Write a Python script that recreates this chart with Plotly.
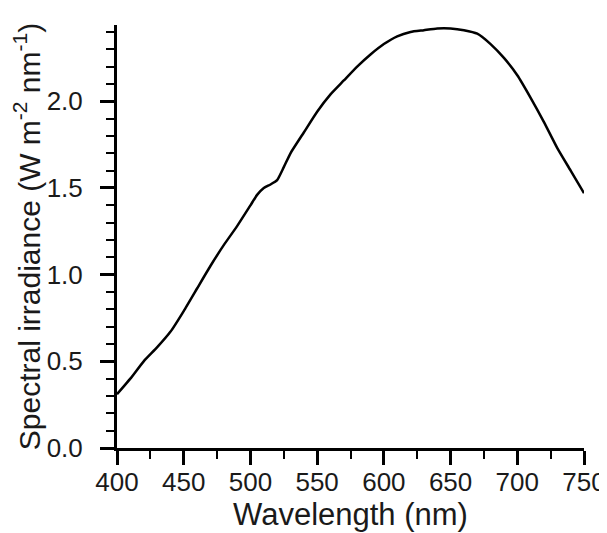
import plotly.graph_objects as go

wavelength = [400, 410, 420, 430, 440, 450, 460, 470, 480, 490, 500, 505, 510, 515, 520,
              525, 530, 540, 550, 560, 570, 580, 590, 600, 610, 620, 630, 640, 650, 660,
              670, 680, 690, 700, 710, 720, 730, 740, 750]
irradiance = [0.31, 0.40, 0.50, 0.58, 0.67, 0.79, 0.92, 1.05, 1.17, 1.28, 1.40, 1.46, 1.50,
              1.52, 1.545, 1.62, 1.70, 1.82, 1.94, 2.04, 2.12, 2.20, 2.27, 2.33, 2.375, 2.40,
              2.41, 2.42, 2.42, 2.41, 2.39, 2.33, 2.25, 2.15, 2.02, 1.88, 1.73, 1.60, 1.47]

x_ticks = [400, 450, 500, 550, 600, 650, 700, 750]
y_ticks = [0.0, 0.5, 1.0, 1.5, 2.0]
y_tick_labels = ["0.0", "0.5", "1.0", "1.5", "2.0"]

font_family = "Liberation Sans, Arial, sans-serif"
text_color = "#1a1a1a"

fig = go.Figure()
fig.add_trace(go.Scatter(x=wavelength, y=irradiance, mode="lines",
                         line=dict(color="black", width=2.5, shape="spline", smoothing=0.5),
                         showlegend=False))

# the page body adds an 8px margin, so the figure is sized to fit inside the window
fig.update_layout(
    width=599, height=525,
    margin=dict(l=109, r=23, t=17, b=85),
    paper_bgcolor="white", plot_bgcolor="white",
    font=dict(family=font_family, color=text_color),
    xaxis=dict(
        range=[400, 750], tickmode="array", tickvals=x_ticks,
        ticks="outside", ticklen=14, tickwidth=2.5, tickcolor="black",
        showline=True, linecolor="black", linewidth=3,
        showgrid=False, zeroline=False, automargin=False,
        tickfont=dict(size=26, color=text_color), ticklabelstandoff=-5,
        minor=dict(dtick=25, tick0=400, ticks="outside", ticklen=8, tickwidth=2, tickcolor="black", showgrid=False),
        title=dict(text="Wavelength (nm)", font=dict(size=31, color=text_color), standoff=8),
    ),
    yaxis=dict(
        range=[0, 2.44], tickmode="array", tickvals=y_ticks, ticktext=y_tick_labels,
        ticks="outside", ticklen=14, tickwidth=2.5, tickcolor="black",
        showline=True, linecolor="black", linewidth=3,
        showgrid=False, zeroline=False, automargin=False,
        tickfont=dict(size=26, color=text_color), ticklabelstandoff=12,
        minor=dict(dtick=0.1, tick0=0, ticks="outside", ticklen=8, tickwidth=2, tickcolor="black", showgrid=False),
        title=dict(text="Spectral irradiance (W m<sup>-2</sup> nm<sup>-1</sup>)",
                   font=dict(size=30, color=text_color), standoff=3),
    ),
)

fig.write_html("out.html")
